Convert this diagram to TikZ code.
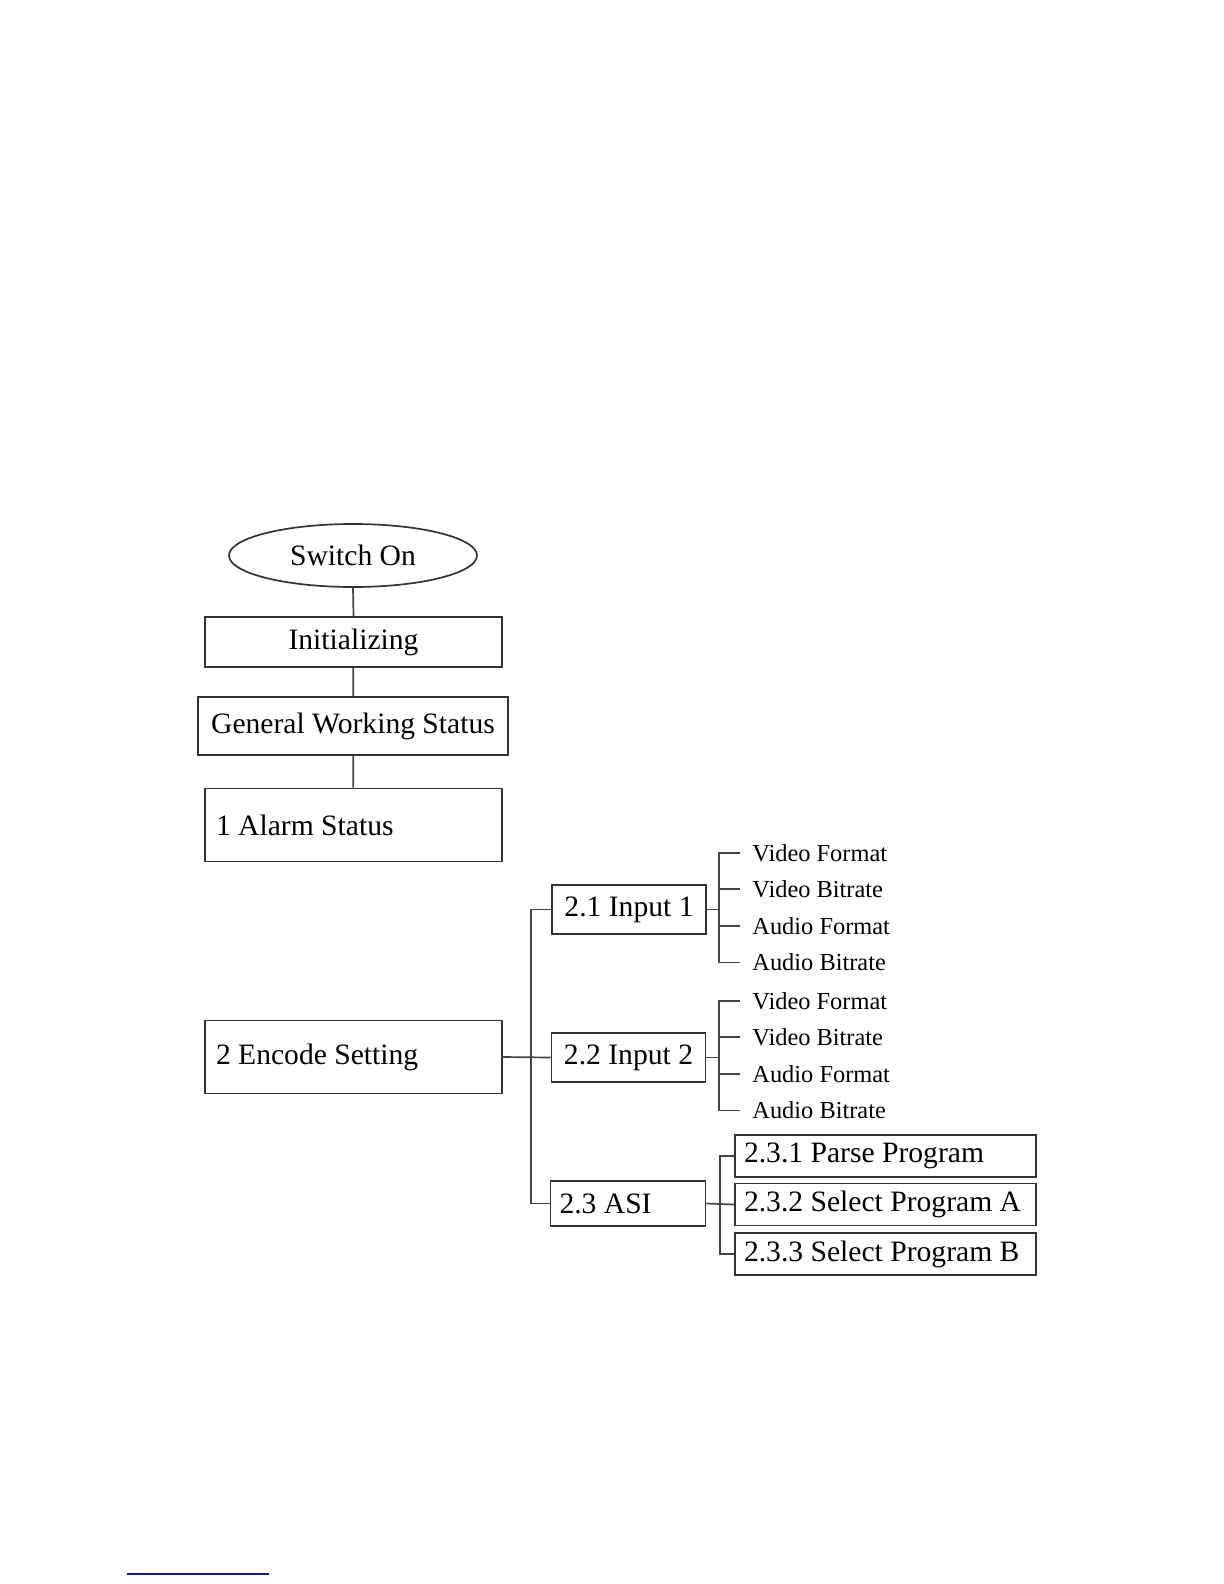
\documentclass[tikz,border=0pt]{standalone}
\usepackage{fontspec}
\setmainfont{Liberation Serif}
\usetikzlibrary{shapes.geometric,positioning}
\definecolor{boxline}{HTML}{333333}
\definecolor{linkc}{HTML}{444444}
\definecolor{rulec}{HTML}{1A1A8C}
% left-set text in a box of fixed width
\newcommand{\lbox}[2]{\makebox[#1][l]{#2}}

\begin{document}
\begin{tikzpicture}[
  x=0.5pt, y=-0.5pt,
  every node/.style={text=black},
  state/.style={draw=boxline, line width=0.85pt, align=center, inner sep=0pt,
     minimum width=148.5pt, minimum height=25pt, font=\fontsize{14.8}{17}\selectfont},
  start/.style={state, ellipse, minimum width=124pt, minimum height=31.5pt},
  menu/.style={state, inner xsep=5.5pt, minimum height=36.5pt},
  sub/.style={state, minimum width=77pt, minimum height=24.5pt},
  subl/.style={sub, inner xsep=4.5pt, minimum height=22.75pt},
  prog/.style={state, inner xsep=4.5pt, minimum height=21pt},
  leaf/.style={anchor=west, inner sep=0pt, font=\fontsize{12.2}{14}\selectfont},
  link/.style={draw=linkc, line width=0.85pt},
]
\useasboundingbox (0,0) rectangle (1224,1584);
% --- columns ---
\coordinate (trunk) at (531,0);
\coordinate (brk)   at (719,0);
\coordinate (tick)  at (740,0);
\coordinate (brka)  at (720,0);
% main chain
\node[start] (swon)  at (353,555.5) {Switch On};
\node[state] (init)  at (353.5,642) {Initializing};
\node[state, minimum width=155pt, minimum height=29pt] (gws) at (353,726) {General Working Status};
\node[menu]  (alarm) at (353.5,825) {\lbox{137.5pt}{1 Alarm Status}};
\node[menu]  (enc)   at (353.5,1057) {\lbox{137.5pt}{2 Encode Setting}};
% encode submenu
\node[sub]  (in1) at (629,909.5)  {2.1 Input 1};
\node[sub]  (in2) at (628.5,1057.5) {2.2 Input 2};
\node[subl] (asi) at (628,1203.5)   {\lbox{68.5pt}{2.3 ASI}};
\node[prog] (p1) at (885.5,1156) {\lbox{141.5pt}{2.3.1 Parse Program}};
\node[prog] (p2) at (885.5,1204.5) {\lbox{141.5pt}{2.3.2 Select Program A}};
\node[prog] (p3) at (885.5,1254) {\lbox{141.5pt}{2.3.3 Select Program B}};
% leaves of the inputs
\foreach \grp/\yc in {in1/909.5, in2/1057.5}{
  \foreach \dy/\txt/\k in {-56.5/Video Format/vf, -20.5/Video Bitrate/vb,
                           16.5/Audio Format/af, 53/Audio Bitrate/ab}
    \node[leaf] (\grp-\k) at (752,\yc+\dy) {\txt};
}
% --- connectors ---
\draw[link] (swon.south) -- (init.north);
\draw[link] (init) -- (gws);
\draw[link] (gws) -- (alarm);
\draw[link] (in1.west) -- (in1.west -| trunk) -- (asi.west -| trunk) -- (asi.west);
\draw[link] (enc.east) -- (in2.west);
\foreach \grp in {in1,in2}{
  \draw[link] (\grp.east) -- (\grp.east -| brk);
  \draw[link] (\grp-vf.west -| tick) -- (\grp-vf.west -| brk) -- (\grp-ab.west -| brk) -- (\grp-ab.west -| tick);
  \foreach \k in {vb,af}
    \draw[link] (\grp-\k.west -| brk) -- (\grp-\k.west -| tick);
}
\draw[link] (p1.west) -- (p1.west -| brka) -- (p3.west -| brka) -- (p3.west);
\draw[link] (asi.east) -- (p2.west);
% footnote rule
\draw[rulec, line width=0.8pt] (127,1574) -- (269,1574);
\end{tikzpicture}
\end{document}
